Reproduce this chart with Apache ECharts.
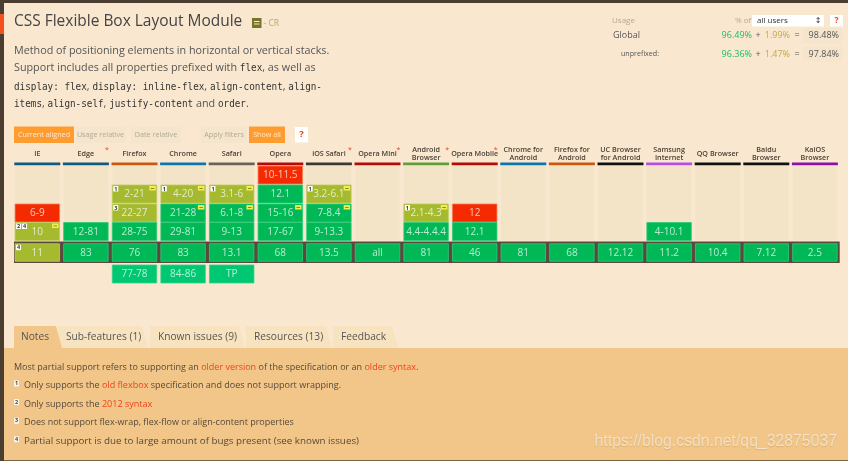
<!DOCTYPE html>
<html>
<head>
<meta charset="utf-8">
<title>CSS Flexible Box Layout Module</title>
<style>
  html, body { margin: 0; padding: 0; background: #f9e8cf; }
  #main { width: 848px; height: 461px; }
</style>
<script src="https://cdn.jsdelivr.net/npm/echarts@6/dist/echarts.min.js"></script>
</head>
<body>
<div id="main"></div>
<script>
// browsers across the table, and the colour bar under each name
const browsers = ['IE', 'Edge', 'Firefox', 'Chrome', 'Safari', 'Opera', 'iOS Safari', 'Opera Mini',
  'Android\nBrowser', 'Opera Mobile', 'Chrome for\nAndroid', 'Firefox for\nAndroid',
  'UC Browser\nfor Android', 'Samsung\nInternet', 'QQ Browser', 'Baidu\nBrowser', 'KaiOS\nBrowser'];
const headerColors = ['#0f5a7f', '#0f5a7f', '#c9570f', '#0f74b0', '#6a6258', '#b40a0a', '#3c3833', '#b40a0a',
  '#5f9e3a', '#b40a0a', '#0f74b0', '#c9570f', '#111111', '#b44ee6', '#111111', '#111111', '#8a12a8'];
const prefixStar = ['Edge', 'iOS Safari', 'Opera Mini', 'Android\nBrowser', 'Opera Mobile'];

// table rows, top to bottom. 'current' is the dark band
const rows = ['r0', 'r1', 'r2', 'r3', 'current', 'future'];

// [browser, row, versions, note numbers, has the minus flag]
const unsupported = [
  ['Opera', 'r0', '10-11.5', '', false],
  ['IE', 'r2', '6-9', '', false],
  ['Opera Mobile', 'r2', '12', '', false]
];
const partial = [
  ['Firefox', 'r1', '2-21', '1', true],
  ['Chrome', 'r1', '4-20', '1', true],
  ['Safari', 'r1', '3.1-6', '1', true],
  ['iOS Safari', 'r1', '3.2-6.1', '1', true],
  ['Firefox', 'r2', '22-27', '3', false],
  ['Android\nBrowser', 'r2', '2.1-4.3', '1', true],
  ['IE', 'r3', '10', '24', true],
  ['IE', 'current', '11', '4', false]
];
const supported = [
  ['Opera', 'r1', '12.1', '', false],
  ['Chrome', 'r2', '21-28', '', true],
  ['Safari', 'r2', '6.1-8', '', true],
  ['Opera', 'r2', '15-16', '', true],
  ['iOS Safari', 'r2', '7-8.4', '', true],
  ['Edge', 'r3', '12-81', '', false],
  ['Firefox', 'r3', '28-75', '', false],
  ['Chrome', 'r3', '29-81', '', false],
  ['Safari', 'r3', '9-13', '', false],
  ['Opera', 'r3', '17-67', '', false],
  ['iOS Safari', 'r3', '9-13.3', '', false],
  ['Android\nBrowser', 'r3', '4.4-4.4.4', '', false],
  ['Opera Mobile', 'r3', '12.1', '', false],
  ['Samsung\nInternet', 'r3', '4-10.1', '', false],
  ['Edge', 'current', '83', '', false],
  ['Firefox', 'current', '76', '', false],
  ['Chrome', 'current', '83', '', false],
  ['Safari', 'current', '13.1', '', false],
  ['Opera', 'current', '68', '', false],
  ['iOS Safari', 'current', '13.5', '', false],
  ['Opera Mini', 'current', 'all', '', false],
  ['Android\nBrowser', 'current', '81', '', false],
  ['Opera Mobile', 'current', '46', '', false],
  ['Chrome for\nAndroid', 'current', '81', '', false],
  ['Firefox for\nAndroid', 'current', '68', '', false],
  ['UC Browser\nfor Android', 'current', '12.12', '', false],
  ['Samsung\nInternet', 'current', '11.2', '', false],
  ['QQ Browser', 'current', '10.4', '', false],
  ['Baidu\nBrowser', 'current', '7.12', '', false],
  ['KaiOS\nBrowser', 'current', '2.5', '', false]
];
const upcoming = [
  ['Firefox', 'future', '77-78', '', false],
  ['Chrome', 'future', '84-86', '', false],
  ['Safari', 'future', 'TP', '', false]
];

// usage panel
const usageRows = [
  ['Global', '96.49%', '1.99%', '98.48%'],
  ['unprefixed:', '96.36%', '1.47%', '97.84%']
];
const tabs = ['Notes', 'Sub-features (1)', 'Known issues (9)', 'Resources (13)', 'Feedback'];
const noteLines = [
  ['1', 'Only supports the ', 'old flexbox', ' specification and does not support wrapping.'],
  ['2', 'Only supports the ', '2012 syntax', ''],
  ['3', 'Does not support flex-wrap, flex-flow or align-content properties', '', ''],
  ['4', 'Partial support is due to large amount of bugs present (see known issues)', '', '']
];

const SANS = '"Open Sans", sans-serif';
const MONO = '"DejaVu Sans Mono", monospace';

// the rows of the original are not quite evenly spaced around the dark band
const rowNudge = [0.5, 0.5, 0.5, 0, 2, 4.5];
const CELL_W = 44.5;

function rowCenter(api, col, row) {
  const p = api.coord([col, row]);
  return [p[0], p[1] + rowNudge[row]];
}

function cellSeries(name, list, fill, edge) {
  return {
    name: name,
    type: 'custom',
    coordinateSystem: 'cartesian2d',
    z: 4,
    clip: false,
    silent: true,
    data: list.map(c => [browsers.indexOf(c[0]), rows.indexOf(c[1])]),
    renderItem: function (params, api) {
      const item = list[params.dataIndex];
      const row = api.value(1);
      const c = rowCenter(api, api.value(0), row);
      const h = row === 4 ? 17.5 : 18;
      const x = c[0] - CELL_W / 2, y = c[1] - h / 2;
      const kids = [
        { type: 'rect', shape: { x: x, y: y, width: CELL_W, height: h },
          style: { fill: fill, stroke: edge, lineWidth: 0.8 } },
        { type: 'text', style: {
          x: c[0], y: c[1] + 0.5, text: item[2],
          fill: 'rgba(255,255,255,0.72)', font: '10px ' + SANS, align: 'center', verticalAlign: 'middle' } }
      ];
      item[3].split('').forEach(function (n, i) {
        kids.push({ type: 'rect', shape: { x: x + 1 + i * 6, y: y + 1, width: 5, height: 5.5 }, style: { fill: '#fff' } });
        kids.push({ type: 'text', style: { x: x + 3.5 + i * 6, y: y + 4, text: n, fill: '#333',
          font: 'bold 5.5px ' + SANS, align: 'center', verticalAlign: 'middle' } });
      });
      if (item[4]) {
        kids.push({ type: 'rect', shape: { x: x + CELL_W - 7.5, y: y + 1, width: 6.5, height: 4.5 }, style: { fill: '#f2ee4e' } });
        kids.push({ type: 'rect', shape: { x: x + CELL_W - 6, y: y + 3, width: 3.5, height: 0.8 }, style: { fill: '#77701c' } });
      }
      return { type: 'group', children: kids };
    }
  };
}

function txt(x, y, text, size, fill, extra) {
  return { type: 'text', silent: true, style: Object.assign({
    x: x, y: y, text: text, fill: fill, font: size + 'px ' + SANS, verticalAlign: 'middle', align: 'left'
  }, extra || {}) };
}
function box(x, y, w, h, fill, extra) {
  return { type: 'rect', silent: true, shape: { x: x, y: y, width: w, height: h }, style: Object.assign({ fill: fill }, extra || {}) };
}
// the screenshot is squeezed a little sideways, so some text needs the same
function squeeze(el, sx) {
  el.scaleX = sx;
  el.originX = el.style.x;
  el.originY = el.style.y;
  return el;
}

// page furniture around the table
const page = [];
page.push(box(0, 0, 848, 3, '#4b3e31'));
page.push(box(0, 0, 4, 461, '#4b3e31'));
page.push(box(0, 14, 4, 20, '#f4511e'));

page.push(squeeze(txt(14, 21, 'CSS Flexible Box Layout Module', 17.2, '#444444', { font: '17.2px ' + SANS }), 0.9));
page.push(box(252, 18, 9.5, 10, '#77722c'));
page.push(box(254, 21, 5.5, 1, '#f9e8cf'));
page.push(box(254, 23.5, 5.5, 1, '#f9e8cf'));
page.push(txt(263.5, 23.5, '- CR', 8.5, '#bda961'));

const descRich = {
  t: { font: '11.6px ' + SANS, fill: '#555555' },
  c: { font: '500 10px ' + MONO, fill: '#333333' }
};
[
  [51, '{t|Method of positioning elements in horizontal or vertical stacks.}'],
  [68, '{t|Support includes all properties prefixed with }{c|flex}{t|, as well as}'],
  [87, '{c|display: flex}{t|, }{c|display: inline-flex}{t|, }{c|align-content}{t|, }{c|align-}'],
  [104, '{c|items}{t|, }{c|align-self}{t|, }{c|justify-content}{t| and }{c|order}{t|.}']
].forEach(l => page.push(squeeze(txt(14, l[0], l[1], 11.6, '#555555', { rich: descRich }), 0.93)));

// view buttons
[
  [14, 60, 'Current aligned', true], [75, 51, 'Usage relative', false], [131, 50, 'Date relative', false],
  [201, 46, 'Apply filters', false], [249, 36, 'Show all', true]
].forEach(function (b) {
  page.push(box(b[0], 126.5, b[1], 16.5, b[3] ? '#ff9c30' : '#f4e5cc'));
  page.push(txt(b[0] + b[1] / 2, 135, b[2], 7.2, b[3] ? 'rgba(255,255,255,0.78)' : '#b3a996', { align: 'center' }));
});
page.push(box(295, 127, 13, 15.5, '#ffffff'));
page.push(txt(301.5, 134.5, '?', 9.5, '#f0401a', { align: 'center', font: 'bold 9.5px ' + SANS }));

// usage panel
page.push(txt(612, 20.5, 'Usage', 8, '#b5a78f'));
page.push(txt(735, 20.5, '% of', 8, '#b5a78f'));
page.push(box(752, 15, 72, 11.5, '#ffffff'));
page.push(txt(757, 20.5, 'all users', 8, '#333333'));
page.push(txt(818, 20.5, '\u2195', 8, '#333333', { align: 'center', font: '8px "DejaVu Sans"' }));
page.push(box(830, 15, 13, 11.5, '#ffffff'));
page.push(txt(836.5, 20.5, '?', 8.5, '#f0401a', { align: 'center', font: 'bold 8.5px ' + SANS }));
usageRows.forEach(function (u, i) {
  const y = i === 0 ? 35.5 : 54;
  page.push(txt(i === 0 ? 613 : 621, y, u[0], i === 0 ? 9 : 7.1, '#555555'));
  page.push(box(803, y - 7.5, 39, 15, '#f4e5cc'));
  page.push(txt(752, y, u[1], 9, '#1cbb6a', { align: 'right' }));
  page.push(txt(758, y, '+', 9, '#555555', { align: 'center' }));
  page.push(txt(790, y, u[2], 9, '#c2a84f', { align: 'right' }));
  page.push(txt(797, y, '=', 9, '#555555', { align: 'center' }));
  page.push(txt(839, y, u[3], 9, '#555555', { align: 'right' }));
});

// tabs and notes panel. last tab first so each one overlaps the next
page.push(box(4, 348, 844, 112, '#f2c688'));
page.push(box(4, 460, 844, 1, '#7a6442'));
const tabEdges = [[14, 62], [58, 148], [150, 245], [246, 332], [333, 398]];
for (let i = tabs.length - 1; i >= 0; i--) {
  const e = tabEdges[i];
  page.push({ type: 'polygon', silent: true,
    shape: { points: [[e[0], 348], [e[0], 326], [e[1] - 6, 326], [e[1], 348]] },
    style: { fill: i === 0 ? '#f2c688' : '#f8e3c0' } });
  page.push(txt(e[0] + (i === 0 ? 7 : 8), 337, tabs[i], 10.2, '#555555'));
}

// the last note sets wider than the others in the original
const noteSizes = [9.05, 9.05, 9.0, 9.8];
const noteRich = function (size) {
  return {
    t: { font: size + 'px ' + SANS, fill: '#57493a' },
    r: { font: size + 'px ' + SANS, fill: '#f0431c' }
  };
};
page.push(txt(14, 367, '{t|Most partial support refers to supporting an }{r|older version}{t| of the specification or an }{r|older syntax}{t|.}',
  9.0, '#57493a', { rich: noteRich(9.0) }));
noteLines.forEach(function (n, i) {
  const y = 385.5 + i * 18.6;
  page.push(box(14, y - 5, 5, 6, '#fdf6e8'));
  page.push(txt(16.5, y - 2, n[0], 5.5, '#444444', { align: 'center', font: 'bold 5.5px ' + SANS }));
  let s = '{t|' + n[1] + '}';
  if (n[2]) s += '{r|' + n[2] + '}';
  if (n[3]) s += '{t|' + n[3] + '}';
  page.push(txt(24, y, s, noteSizes[i], '#57493a', { rich: noteRich(noteSizes[i]) }));
});
page.push(txt(837, 442, 'https://blog.csdn.net/qq_32875037', 15.8, 'rgba(255,255,255,0.55)', {
  align: 'right', font: '15.8px "Liberation Sans"', textShadowColor: 'rgba(110,80,30,0.35)', textShadowBlur: 1, textShadowOffsetY: 1
}));

const chart = echarts.init(document.getElementById('main'), null, { renderer: 'canvas' });
chart.setOption({
  animation: false,
  backgroundColor: '#f9e8cf',
  graphic: { elements: page },
  grid: { left: 13, top: 165, width: 826.2, height: 114 },
  xAxis: {
    type: 'category',
    position: 'top',
    data: browsers,
    axisLine: { show: false },
    axisTick: { show: false },
    splitLine: { show: false },
    axisLabel: {
      interval: 0, margin: 11, verticalAlign: 'middle', hideOverlap: false,
      fontFamily: SANS, fontSize: 7.2, fontWeight: 600, color: '#4a3f35', lineHeight: 8.4
    }
  },
  yAxis: {
    type: 'category',
    inverse: true,
    data: rows,
    show: false
  },
  series: [
    {
      // empty column backdrop and the colour bar on top of it
      name: 'columns',
      type: 'custom',
      z: 2,
      clip: false,
      silent: true,
      data: browsers.map((b, i) => [i, 0]),
      renderItem: function (params, api) {
        const col = api.value(0);
        const top = rowCenter(api, col, 0)[1] - 9;
        const bottom = rowCenter(api, col, 3)[1] + 9;
        const x = api.coord([col, 0])[0];
        const kids = [
          { type: 'rect', shape: { x: x - CELL_W / 2, y: top, width: CELL_W, height: bottom - top }, style: { fill: '#f3e4c7' } },
          { type: 'rect', shape: { x: x - 23, y: top - 3.4, width: 46, height: 2.6 }, style: { fill: headerColors[col] } }
        ];
        if (prefixStar.indexOf(browsers[col]) >= 0) {
          kids.push({ type: 'text', style: { x: x + 21, y: top - 16, text: '*', fill: '#f0401a',
            font: '7px ' + SANS, align: 'center', verticalAlign: 'middle' } });
        }
        return { type: 'group', children: kids };
      }
    },
    {
      // dark band behind the current versions
      name: 'current band',
      type: 'custom',
      z: 3,
      clip: false,
      silent: true,
      data: [[0, rows.indexOf('current')]],
      renderItem: function (params, api) {
        const y = rowCenter(api, 0, api.value(1))[1];
        return { type: 'rect', shape: { x: params.coordSys.x + 1, y: y - 11, width: params.coordSys.width - 0.5, height: 21.5 },
          style: { fill: '#5a4a3e' } };
      }
    },
    cellSeries('unsupported', unsupported, '#f52a00', '#fa7a50'),
    cellSeries('partial', partial, '#a5ba2f', '#bfcc62'),
    cellSeries('supported', supported, '#00b956', '#2fcb78'),
    cellSeries('upcoming', upcoming, '#00c771', '#36d48e')
  ]
});
</script>
</body>
</html>
